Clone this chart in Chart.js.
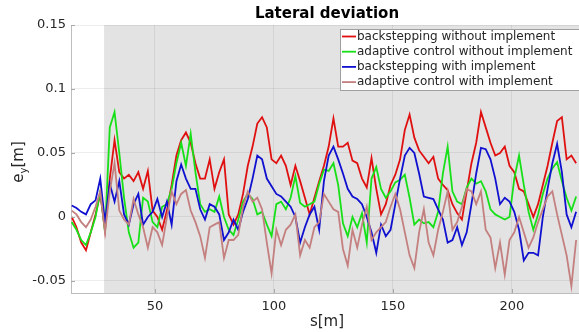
<!DOCTYPE html>
<html>
<head>
<meta charset="utf-8">
<script src="https://cdn.jsdelivr.net/npm/chart.js@4"></script>
<style>
  body { margin: 0; background: #fff; }
  #wrap { width: 579px; height: 332px; }
</style>
</head>
<body>
<div id="wrap"><canvas id="dev" width="579" height="332"></canvas></div>
<script>
// path position s [m]
const sPos = [15,17,19,21,23,25,27,29,31,33,35,37,39,41,43,45,47,49,
  51,53,55,57,59,61,63,65,67,69,71,73,75,77,79,81,83,85,87,
  89,91,93,95,97,99,101,103,105,107,109,111,113,115,117,119,121,123,
  125,127,129,131,133,135,137,139,141,143,145,147,149,151,153,155,157,
  159,161,163,165,167,169,171,173,175,177,179,181,183,185,187,189,191,193,
  195,197,199,201,203,205,207,209,211,213,215,217,219,221,223,225,227];

// lateral deviation e_y [m]
const backNoImpl = [0.000,-0.008,-0.020,-0.026,-0.012,0.002,0.018,-0.010,0.030,0.060,0.035,0.030,0.033,0.028,0.035,0.022,0.036,0.005,
  0.000,-0.010,0.005,0.025,0.048,0.060,0.066,0.058,0.042,0.030,0.030,0.045,0.022,0.035,0.045,0.002,-0.006,0.002,0.018,
  0.040,0.055,0.073,0.078,0.070,0.045,0.042,0.048,0.040,0.025,0.040,0.028,0.015,0.002,0.015,0.028,0.040,0.055,
  0.077,0.055,0.055,0.058,0.044,0.042,0.030,0.023,0.046,0.022,0.002,0.010,0.025,0.033,0.045,0.068,0.080,
  0.062,0.052,0.047,0.042,0.047,0.030,0.025,0.021,0.010,0.003,-0.002,0.020,0.042,0.058,0.082,0.070,0.058,0.048,
  0.050,0.055,0.040,0.035,0.022,0.020,0.010,0.000,0.010,0.025,0.040,0.058,0.075,0.078,0.045,0.048,0.042];

const adaptNoImpl = [-0.004,-0.010,-0.018,-0.022,-0.012,0.000,0.020,-0.012,0.070,0.082,0.050,0.015,-0.012,-0.024,-0.020,0.015,0.012,-0.004,
  -0.008,0.008,0.010,0.022,0.042,0.058,0.040,0.065,0.035,0.010,0.004,0.006,0.004,0.016,0.000,-0.010,-0.014,-0.002,0.012,
  0.018,0.014,0.002,0.004,-0.006,-0.015,0.010,0.012,0.006,0.015,0.032,0.011,0.008,0.010,0.012,0.026,0.037,0.036,
  0.042,0.025,-0.005,-0.015,0.000,-0.008,0.003,-0.020,0.030,0.039,0.022,0.015,0.020,0.027,0.029,0.033,0.015,
  -0.006,-0.002,-0.005,-0.004,-0.008,0.004,0.034,0.055,0.020,0.012,0.010,0.023,0.030,0.026,0.028,0.020,0.006,0.002,
  0.000,-0.002,0.000,0.030,0.048,0.025,0.004,-0.010,0.002,0.018,0.030,0.038,0.043,0.028,0.015,0.005,0.016];

const backImpl = [0.009,0.007,0.004,0.002,0.010,0.013,0.030,-0.004,0.026,0.012,0.028,0.002,-0.006,0.010,0.018,-0.006,0.000,0.004,
  0.014,0.000,0.012,-0.006,0.028,0.041,0.030,0.022,0.022,0.006,-0.002,0.010,0.008,0.002,-0.018,-0.012,-0.002,-0.010,0.004,
  0.014,0.030,0.048,0.045,0.030,0.024,0.018,0.016,0.012,0.008,0.000,-0.020,-0.008,0.002,0.008,-0.010,0.028,0.048,
  0.055,0.045,0.034,0.022,0.016,0.014,0.010,0.000,-0.012,-0.028,-0.006,-0.015,-0.010,0.010,0.030,0.048,0.054,
  0.050,0.034,0.016,0.015,0.014,0.006,-0.002,-0.020,-0.018,-0.008,-0.022,-0.012,0.010,0.034,0.054,0.053,0.045,0.030,
  0.010,0.015,0.012,0.004,-0.010,-0.034,-0.028,-0.028,-0.030,0.000,0.022,0.042,0.057,0.035,0.002,-0.008,0.004];

const adaptImpl = [0.005,0.002,-0.004,-0.008,-0.002,0.008,0.020,-0.012,0.020,0.042,0.005,-0.002,-0.006,0.014,0.002,-0.008,-0.024,-0.008,
  -0.012,-0.022,0.000,0.020,0.010,0.018,0.021,0.005,-0.004,-0.015,-0.032,-0.008,-0.006,-0.004,-0.032,-0.018,-0.018,-0.014,0.008,
  0.020,0.012,0.015,0.006,-0.020,-0.044,-0.010,-0.022,-0.010,-0.006,0.002,-0.030,-0.018,-0.024,-0.008,-0.004,0.018,0.012,
  0.006,0.004,-0.025,-0.038,-0.010,-0.024,-0.006,0.008,-0.018,-0.012,-0.008,-0.004,0.008,0.018,0.006,-0.012,-0.030,
  -0.040,-0.012,0.006,-0.020,-0.030,-0.010,0.004,0.020,-0.010,-0.004,0.008,0.022,0.020,0.010,0.020,-0.010,-0.016,-0.040,
  -0.020,-0.045,-0.018,-0.012,0.000,-0.012,-0.024,-0.016,-0.004,0.006,0.016,0.020,0.002,-0.014,-0.030,-0.054,-0.018];

const xTicks = [50, 100, 150, 200];
const yTicks = [-0.05, 0, 0.05, 0.1, 0.15];
const shadeFrom = 28.6;

function pts(vals) {
  return sPos.map((s, i) => ({x: s, y: vals[i]}));
}

const tickFont = {family: 'DejaVu Sans', size: 13};
const gridCol = 'rgba(0,0,0,0.07)';
const axisCol = '#bdbdbd';

// shading, title, axis labels, legend
const decor = {
  id: 'decor',
  beforeDraw(chart) {
    const {ctx, chartArea: a, scales: {x}} = chart;
    ctx.save();
    ctx.fillStyle = '#fff';
    ctx.fillRect(0, 0, chart.width, chart.height);
    const x0 = x.getPixelForValue(shadeFrom);
    ctx.fillStyle = '#e3e3e3';
    ctx.fillRect(x0, a.top, a.right - x0, a.bottom - a.top);
    ctx.restore();
  },
  afterDraw(chart) {
    const {ctx, chartArea: a, scales: {x, y}} = chart;
    ctx.save();
    // inner tick marks
    ctx.strokeStyle = '#a8a8a8';
    ctx.lineWidth = 1;
    ctx.beginPath();
    yTicks.forEach(v => {
      const py = Math.round(y.getPixelForValue(v)) + 0.5;
      ctx.moveTo(a.left, py); ctx.lineTo(a.left + 4, py);
    });
    xTicks.forEach(v => {
      const px = Math.round(x.getPixelForValue(v)) + 0.5;
      ctx.moveTo(px, a.bottom); ctx.lineTo(px, a.bottom - 4);
    });
    ctx.stroke();

    ctx.fillStyle = '#000';
    ctx.textAlign = 'center';
    ctx.textBaseline = 'middle';
    ctx.font = 'bold 15px DejaVu Sans';
    ctx.fillText('Lateral deviation', 327, 14);

    ctx.fillStyle = '#262626';
    ctx.font = '15px DejaVu Sans';
    ctx.fillText('s[m]', 327, 322);

    // y label with subscript
    ctx.translate(18, 162);
    ctx.rotate(-Math.PI / 2);
    ctx.textAlign = 'left';
    ctx.textBaseline = 'alphabetic';
    ctx.font = '15px DejaVu Sans';
    const wE = ctx.measureText('e').width;
    const wM = ctx.measureText('[m]').width;
    ctx.font = '10px DejaVu Sans';
    const wY = ctx.measureText('y').width;
    let cx = -(wE + wY + wM) / 2;
    ctx.font = '15px DejaVu Sans';
    ctx.fillText('e', cx, 5); cx += wE;
    ctx.font = '10px DejaVu Sans';
    ctx.fillText('y', cx, 9); cx += wY;
    ctx.font = '15px DejaVu Sans';
    ctx.fillText('[m]', cx, 5);
    ctx.setTransform(1, 0, 0, 1, 0, 0);

    // legend box
    const bx = 340.5, by = 29.5, bw = 250, bh = 61;
    ctx.fillStyle = '#fff';
    ctx.fillRect(bx, by, bw, bh);
    ctx.strokeStyle = '#a0a0a0';
    ctx.strokeRect(bx, by, bw, bh);
    ctx.font = '12px DejaVu Sans';
    ctx.textBaseline = 'middle';
    ctx.textAlign = 'left';
    chart.data.datasets.forEach((ds, i) => {
      const ly = 36.5 + i * 15.2;
      ctx.strokeStyle = ds.borderColor;
      ctx.lineWidth = 1.8;
      ctx.beginPath();
      ctx.moveTo(342, ly); ctx.lineTo(356, ly);
      ctx.stroke();
      ctx.fillStyle = '#262626';
      ctx.fillText(ds.label, 357, ly);
    });
    ctx.restore();
  }
};

new Chart(document.getElementById('dev'), {
  type: 'line',
  data: {
    datasets: [
      {label: 'backstepping without implement', data: pts(backNoImpl), borderColor: '#e01010', order: 4},
      {label: 'adaptive control without implement', data: pts(adaptNoImpl), borderColor: '#18e018', order: 3},
      {label: 'backstepping with implement', data: pts(backImpl), borderColor: '#1010d0', order: 2},
      {label: 'adaptive control with implement', data: pts(adaptImpl), borderColor: '#c47f7f', order: 1}
    ]
  },
  options: {
    responsive: false,
    animation: false,
    events: [],
    layout: {padding: {top: 25, right: 0, left: 0, bottom: 0}},
    elements: {
      line: {borderWidth: 1.8, tension: 0, fill: false},
      point: {radius: 0}
    },
    plugins: {
      legend: {display: false},
      title: {display: false},
      tooltip: {enabled: false}
    },
    scales: {
      x: {
        type: 'linear',
        min: 14.7,
        max: 228.2,
        afterBuildTicks: s => { s.ticks = xTicks.map(v => ({value: v})); },
        afterFit: s => { s.height = 39; },
        grid: {color: gridCol, drawTicks: false},
        border: {color: axisCol},
        ticks: {font: tickFont, color: '#262626', padding: 6, maxRotation: 0, callback: v => String(v)}
      },
      y: {
        type: 'linear',
        min: -0.0594,
        max: 0.15,
        afterBuildTicks: s => { s.ticks = yTicks.map(v => ({value: v})); },
        afterFit: s => { s.width = 71; },
        grid: {color: gridCol, drawTicks: false},
        border: {color: axisCol},
        ticks: {font: tickFont, color: '#262626', padding: 5, callback: v => String(v)}
      }
    }
  },
  plugins: [decor]
});
</script>
</body>
</html>
